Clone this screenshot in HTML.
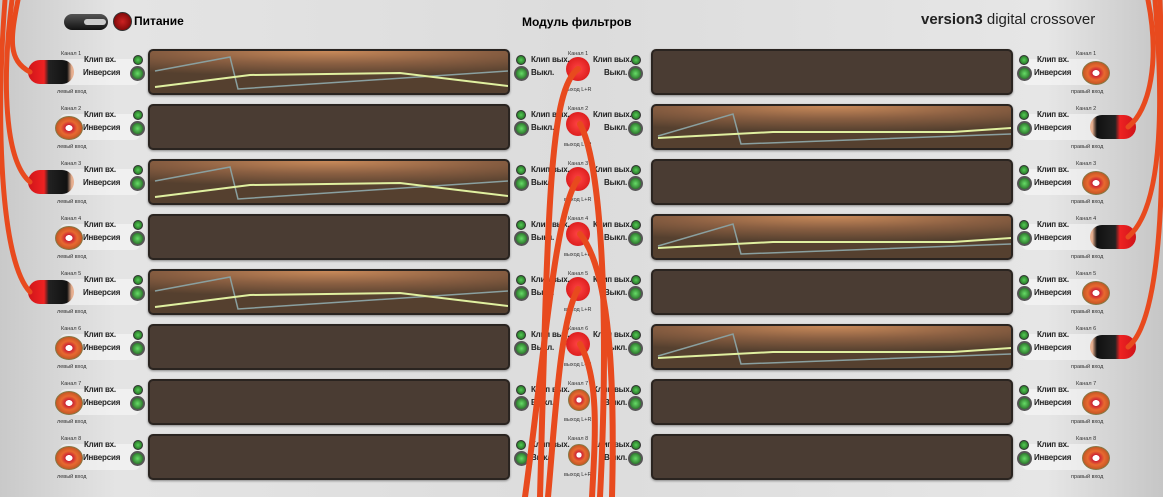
<!DOCTYPE html>
<html><head><meta charset="utf-8"><style>
body{margin:0;width:1163px;height:497px;overflow:hidden;background:linear-gradient(90deg,#c9c9c9,#e4e4e4 10%,#dcdcdc 50%,#e6e6e6 90%,#c6c6c6);font-family:"Liberation Sans","DejaVu Sans",sans-serif;position:relative}
.a{position:absolute}
.lbl{font-size:8px;font-weight:bold;color:#222;white-space:nowrap;letter-spacing:-0.2px}
.tiny{font-size:5.5px;color:#333;white-space:nowrap}
.panel{position:absolute;width:362px;height:46px;border-radius:5px;background:#4a3c33;border:2px solid #2a2420;box-sizing:border-box;box-shadow:0 1px 2px #888}
.lit{background:radial-gradient(ellipse 90% 60% at 50% 0%,#c98a5a,#8a5f42 50%,#55402f)}
.ledS{position:absolute;width:8px;height:8px;border-radius:50%;background:radial-gradient(#5c5,#1a5a1a);border:1px solid #333}
.ledB{position:absolute;width:11px;height:11px;border-radius:50%;background:radial-gradient(#6d6,#185018);border:2px solid #555}
.jack{position:absolute;width:26px;height:22px;border-radius:50%;background:radial-gradient(#fff 18%,#c23 20%,#e86a30 45%,#b85020 80%);border:1px solid #874}
.plug{position:absolute;width:46px;height:24px;border-radius:12px;background:linear-gradient(90deg,#d0141a 0,#e22 35%,#222 45%,#111 85%,#e8b090 95%)}
.cj{position:absolute;width:24px;height:24px;border-radius:50%;background:radial-gradient(#f44,#d01010)}
.strip{position:absolute;height:26px;background:rgba(255,255,255,.45);border-radius:6px}
</style></head><body>
<div class="a" style="left:64px;top:14px;width:44px;height:16px;border-radius:8px;background:linear-gradient(#555,#111)"></div>
<div class="a" style="left:84px;top:19px;width:22px;height:6px;background:#ccc;border-radius:3px"></div>
<div class="a" style="left:113px;top:12px;width:17px;height:17px;border-radius:50%;background:radial-gradient(#c22,#600);border:1px solid #333"></div>
<div class="a" style="left:134px;top:14px;font-size:12px;font-weight:bold">Питание</div>
<div class="a" style="left:522px;top:15px;font-size:12px;font-weight:bold">Модуль фильтров</div>
<div class="a" style="left:921px;top:11px;font-size:15px;color:#222"><b>version3</b> digital crossover</div>
<div id="rows"></div>
<svg class="a" style="left:0;top:0" width="1163" height="497">
<g fill="none" stroke-linecap="round">
<path d="M18 0 C10 40,8 60,30 72" stroke="#e84a1e" stroke-width="5"/>
<path d="M12 0 C2 80,4 160,30 182" stroke="#e84a1e" stroke-width="5"/>
<path d="M5 0 C-4 120,0 260,30 292" stroke="#e84a1e" stroke-width="5"/>
<path d="M1148 0 C1160 60,1150 110,1128 127" stroke="#e84a1e" stroke-width="5"/>
<path d="M1155 0 C1165 120,1160 210,1128 237" stroke="#e84a1e" stroke-width="5"/>
<path d="M1160 0 C1166 180,1162 320,1128 347" stroke="#e84a1e" stroke-width="5"/>
<path d="M578 69 C550 90,548 200,540 497" stroke="#e84a1e" stroke-width="6"/>
<path d="M580 124 C600 160,610 300,600 497" stroke="#e84a1e" stroke-width="6"/>
<path d="M578 179 C555 210,545 350,525 497" stroke="#e84a1e" stroke-width="6"/>
<path d="M580 234 C610 270,615 380,612 497" stroke="#e84a1e" stroke-width="6"/>
<path d="M578 289 C560 320,555 420,548 497" stroke="#e84a1e" stroke-width="6"/>
<path d="M580 344 C600 380,595 440,592 497" stroke="#e84a1e" stroke-width="6"/>
</g></svg>
<script>
var h='',lit={0:1,2:1,4:1},litR={1:1,3:1,5:1};
for(var i=0;i<8;i++){var y=49+55*i;
h+='<div class="strip" style="left:60px;top:'+(y+10)+'px;width:80px"></div>';
h+='<div class="strip" style="left:1022px;top:'+(y+10)+'px;width:80px"></div>';
h+='<div class="a tiny" style="left:61px;top:'+(y+2)+'px">Канал '+(i+1)+'</div><div class="a tiny" style="left:57px;top:'+(y+40)+'px">левый вход</div>';
h+='<div class="a tiny" style="left:1076px;top:'+(y+2)+'px">Канал '+(i+1)+'</div><div class="a tiny" style="left:1071px;top:'+(y+40)+'px">правый вход</div>';
h+='<div class="a tiny" style="left:568px;top:'+(y+2)+'px">Канал '+(i+1)+'</div><div class="a tiny" style="left:564px;top:'+(y+38)+'px">выход L+R</div>';
h+=(lit[i]?'<div class="plug" style="left:28px;top:'+(y+11)+'px"></div>':'<div class="jack" style="left:55px;top:'+(y+12)+'px"></div>');
h+=(litR[i]?'<div class="plug" style="left:1090px;top:'+(y+11)+'px;transform:scaleX(-1)"></div>':'<div class="jack" style="left:1082px;top:'+(y+12)+'px"></div>');
h+=(i<6?'<div class="cj" style="left:566px;top:'+(y+8)+'px"></div>':'<div class="jack" style="left:568px;top:'+(y+10)+'px;width:20px;height:20px"></div>');
h+='<div class="a lbl" style="left:84px;top:'+(y+6)+'px">Клип вх.</div><div class="a lbl" style="left:83px;top:'+(y+19)+'px">Инверсия</div>';
h+='<div class="ledS" style="left:133px;top:'+(y+6)+'px"></div><div class="ledB" style="left:130px;top:'+(y+17)+'px"></div>';
h+='<div class="ledS" style="left:516px;top:'+(y+6)+'px"></div><div class="ledB" style="left:514px;top:'+(y+17)+'px"></div>';
h+='<div class="a lbl" style="left:531px;top:'+(y+6)+'px">Клип вых.</div><div class="a lbl" style="left:531px;top:'+(y+19)+'px">Выкл.</div>';
h+='<div class="a lbl" style="left:593px;top:'+(y+6)+'px">Клип вых.</div><div class="a lbl" style="left:604px;top:'+(y+19)+'px">Выкл.</div>';
h+='<div class="ledS" style="left:631px;top:'+(y+6)+'px"></div><div class="ledB" style="left:628px;top:'+(y+17)+'px"></div>';
h+='<div class="a lbl" style="left:1037px;top:'+(y+6)+'px">Клип вх.</div><div class="a lbl" style="left:1034px;top:'+(y+19)+'px">Инверсия</div>';
h+='<div class="ledS" style="left:1019px;top:'+(y+6)+'px"></div><div class="ledB" style="left:1017px;top:'+(y+17)+'px"></div>';
h+='<div class="panel'+(lit[i]?' lit':'')+'" style="left:148px;top:'+y+'px">'+(lit[i]?'<svg width="358" height="42"><polyline points="5,20 80,6 88,38 358,20" fill="none" stroke="#8aa0a0" stroke-width="1.5"/><polyline points="5,36 100,24 250,22 358,35" fill="none" stroke="#e0f0a0" stroke-width="2"/></svg>':'')+'</div>';
h+='<div class="panel'+(litR[i]?' lit':'')+'" style="left:651px;top:'+y+'px">'+(litR[i]?'<svg width="358" height="42"><polyline points="5,30 80,8 88,38 358,28" fill="none" stroke="#8aa0a0" stroke-width="1.5"/><polyline points="5,32 120,26 300,26 358,22" fill="none" stroke="#e0f0a0" stroke-width="2"/></svg>':'')+'</div>';
}
document.getElementById('rows').innerHTML=h;
</script>
</body></html>
